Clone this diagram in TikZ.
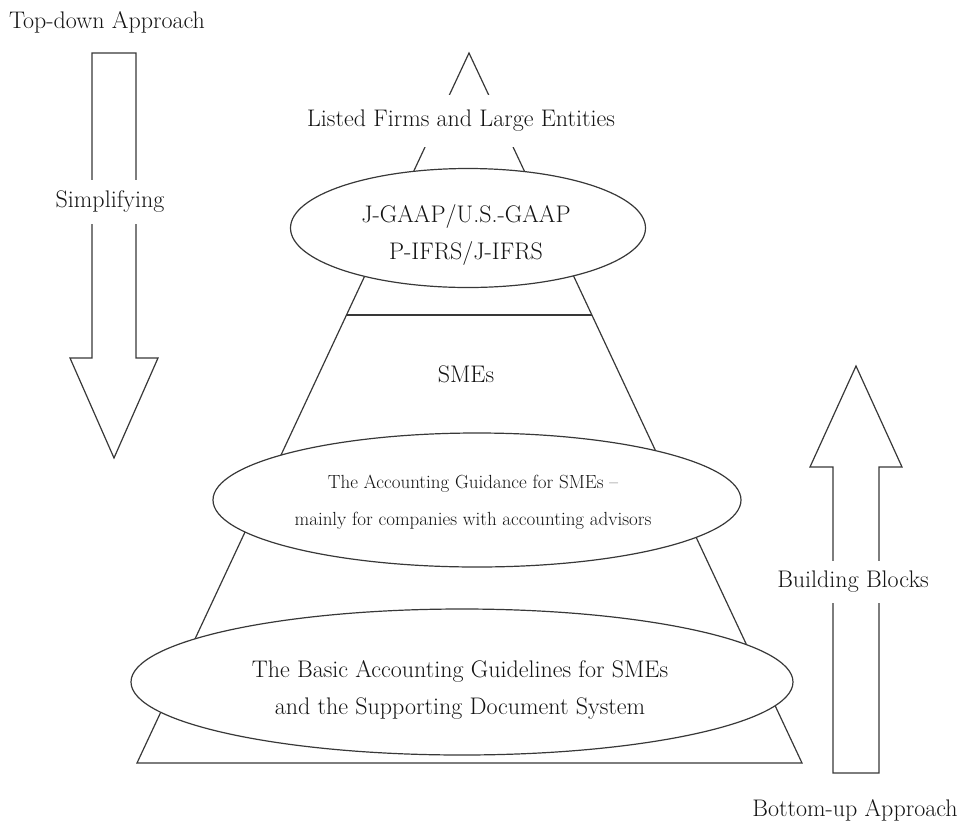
\documentclass[tikz,border=0pt]{standalone}
\usetikzlibrary{shapes.geometric}
\definecolor{ink}{gray}{0.22}
\definecolor{textink}{gray}{0.08}
\begin{document}
\begin{tikzpicture}[x=1pt,y=-1pt,line width=1.2pt,
  lbl/.style={font=\fontsize{24}{28}\selectfont,text=textink,inner sep=0pt},
  small/.style={font=\fontsize{19}{22}\selectfont,text=textink,inner sep=0pt},
  gap/.style={lbl,fill=white,inner xsep=4pt},
  oval/.style={ellipse,draw=ink,fill=white,inner sep=0pt},
  bigarrow/.style={draw=ink,fill=white,line join=miter}]
\useasboundingbox (0,0) rectangle (962,823);
% pyramid
\coordinate (apex) at (469,53);
\coordinate (bl) at (137,763);
\coordinate (br) at (802,763);
\coordinate (hl) at (346.5,315);
\coordinate (hr) at (591.9,315);
\draw[draw=ink,line join=miter] (apex) -- (bl) -- (br) -- cycle;
\draw[draw=ink] (hl) -- (hr);
\node[gap,minimum height=52pt] (listed) at (461,121) {Listed Firms and Large Entities};
% ovals
\node[oval,minimum width=355pt,minimum height=119pt] (e1) at (468,228) {};
\node[lbl,anchor=base] (t1a) at (466,222) {J-GAAP/U.S.-GAAP};
\node[lbl,anchor=base] (t1b) at (466,259) {P-IFRS/J-IFRS};
\node[lbl,anchor=base] (smes) at (466,382) {SMEs};
\node[oval,minimum width=528pt,minimum height=134pt] (e2) at (477,500) {};
\node[small,anchor=base] (t2a) at (473,488) {The Accounting Guidance for SMEs \textendash};
\node[small,anchor=base] (t2b) at (473,525) {mainly for companies with accounting advisors};
\node[oval,minimum width=662pt,minimum height=146pt] (e3) at (462,682) {};
\node[lbl,anchor=base] (t3a) at (460,677) {The Basic Accounting Guidelines for SMEs};
\node[lbl,anchor=base] (t3b) at (460,714) {and the Supporting Document System};
% down arrow
\draw[bigarrow] (92,53) -- (136,53) -- (136,358) -- (158,358) -- (114,458) -- (70,358) -- (92,358) -- cycle;
\node[gap,minimum height=44pt] (simp) at (110,202) {Simplifying};
\node[lbl,anchor=base] (topdown) at (107,28) {Top-down Approach};
% up arrow
\draw[bigarrow] (833,773) -- (879,773) -- (879,467) -- (902,467) -- (856,366) -- (810,467) -- (833,467) -- cycle;
\node[gap,minimum height=42pt] (build) at (853,582) {Building Blocks};
\node[lbl,anchor=base] (bottomup) at (855,816) {Bottom-up Approach};
\end{tikzpicture}
\end{document}
